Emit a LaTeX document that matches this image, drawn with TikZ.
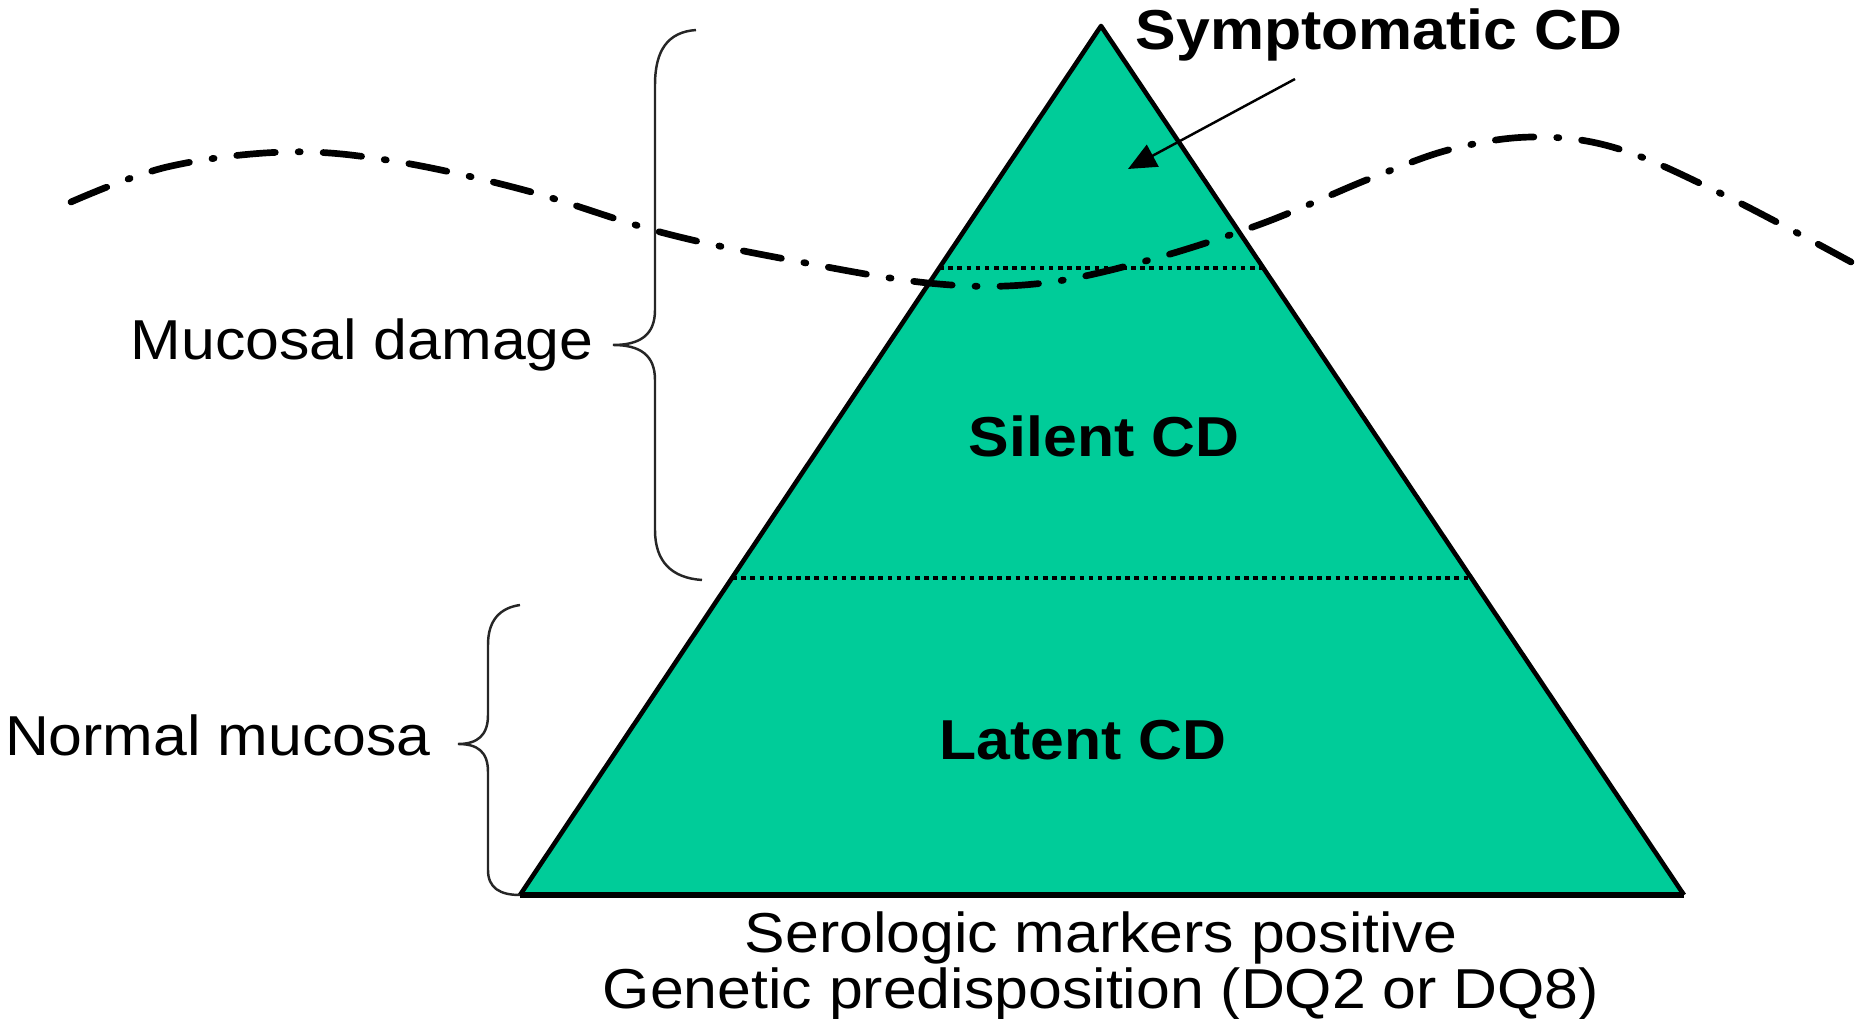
\documentclass[tikz,border=0pt]{standalone}
\usepackage{fontspec}
\setmainfont[FakeStretch=1.08]{Liberation Sans}
\usetikzlibrary{arrows.meta,calc}
\definecolor{pyramidgreen}{RGB}{0,204,153}

\begin{document}
\begin{tikzpicture}[x=0.01cm,y=-0.01cm,
    every node/.style={font=\fontsize{16}{14.5}\selectfont},
    layer/.style={font=\fontsize{16}{14.5}\selectfont\bfseries},
    brace/.style={line width=0.7pt,black!85},
    levelline/.style={line width=1.1pt,dash pattern=on 1.3pt off 1.3pt},
    threshold/.style={line width=1.9pt,line cap=round,
        dash pattern=on 11pt off 6.5pt on 0.6pt off 6.5pt}]
    \useasboundingbox (0,0) rectangle (1866,1019);

    % 1. The pyramid
    \coordinate (apex) at (1101,26);
    \coordinate (baseleft) at (520,895);
    \coordinate (baseright) at (1684,895);
    \fill[pyramidgreen] (apex) -- (baseleft) -- (baseright) -- cycle;
    \draw[line width=1.3pt,line join=round] (baseleft) -- (apex) -- (baseright);
    \draw[line width=1.9pt] (baseleft) -- (baseright);

    % 2. Dotted level lines
    \draw[levelline] ($(apex)!0.2785!(baseleft)$) -- ($(apex)!0.2785!(baseright)$);
    \draw[levelline] ($(apex)!0.635!(baseleft)$) -- ($(apex)!0.635!(baseright)$);

    % 3. Layer labels
    \node[layer] (symptomatic) at (1379,35) {Symptomatic CD};
    \node[layer] (silent) at (1104,436) {Silent CD};
    \node[layer] (latent) at (1083,740) {Latent CD};

    % 4. Arrow to the top layer
    \coordinate (arrowtail) at (1295,79);
    \coordinate (arrowhead) at (1128,169);
    \draw[line width=0.7pt,-{Triangle[length=8pt,width=7pt]}] (arrowtail) -- (arrowhead);

    % 5. Dash-dot threshold curve
    \draw[threshold] plot[smooth,tension=0.6] coordinates {
        (71,202) (167,167) (286,152) (393,161) (524,190) (660,232)
        (785,259) (928,283) (1035,284) (1142,262) (1261,224) (1369,179)
        (1452,149) (1535,137) (1619,149) (1726,196) (1851,262)};

    % 6. Braces and their labels
    \draw[brace] (696,30) .. controls (668,32) and (655,50) .. (655,85)
        -- (655,310) .. controls (655,335) and (640,345) .. (613,345)
        .. controls (640,345) and (655,355) .. (655,380)
        -- (655,530) .. controls (655,562) and (672,578) .. (702,580);
    \node[anchor=east] (mucosal) at (606,345) {Mucosal damage};

    \draw[brace] (520,605) .. controls (500,608) and (488,620) .. (488,645)
        -- (488,715) .. controls (488,735) and (478,744) .. (458,744)
        .. controls (478,744) and (488,752) .. (488,772)
        -- (488,870) .. controls (488,888) and (500,895) .. (520,895);
    \node[anchor=east] (normal) at (443,735) {Normal mucosa};

    % 7. Text under the base
    \node[align=center] (markers) at (1101,966)
        {Serologic markers positive\\Genetic predisposition (DQ2 or DQ8)};
\end{tikzpicture}
\end{document}
